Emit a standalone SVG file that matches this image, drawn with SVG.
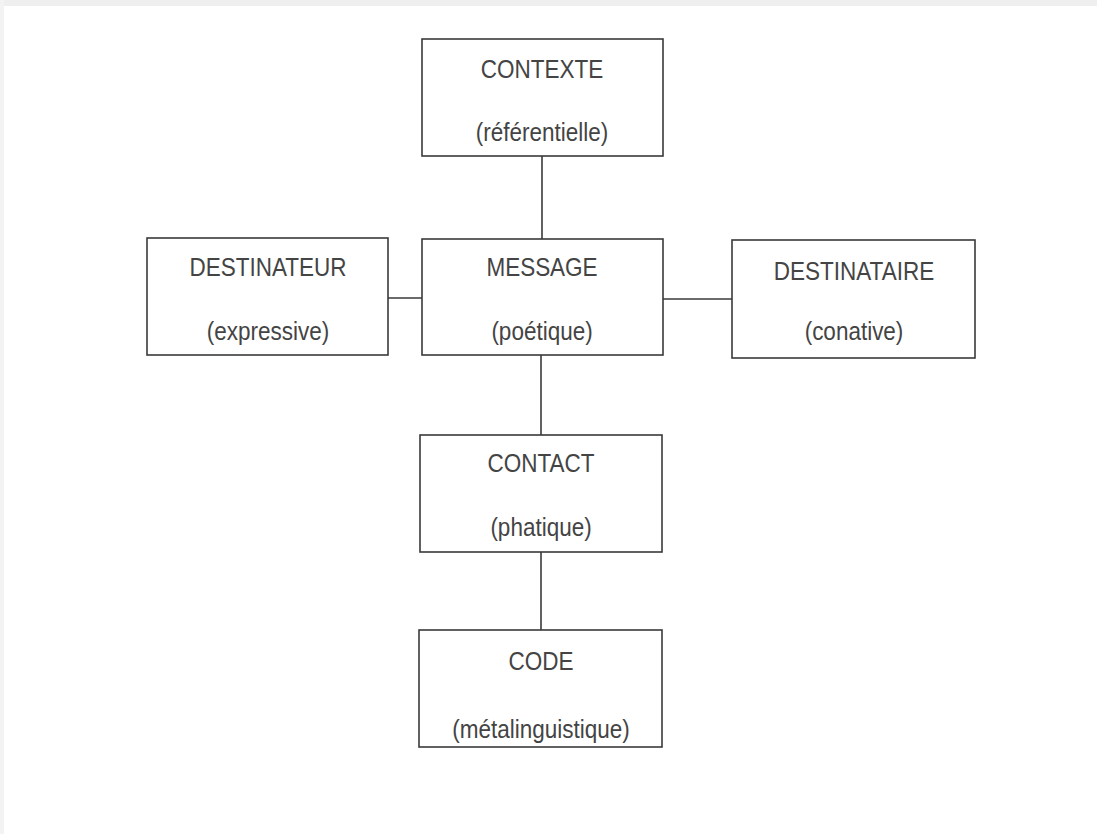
<svg xmlns="http://www.w3.org/2000/svg" width="1097" height="834" viewBox="0 0 1097 834">
<style>
.box{fill:#ffffff;stroke:#3a3a3a;stroke-width:1.6}
.ln{stroke:#3a3a3a;stroke-width:1.6;fill:none}
text{font-family:"Liberation Sans",Arial,sans-serif;font-size:25px;fill:#444444;text-anchor:middle}
</style>
<rect x="0" y="0" width="1097" height="834" fill="#ffffff"/>
<rect x="0" y="0" width="1097" height="6" fill="#efefef"/>
<rect x="0" y="0" width="4" height="834" fill="#f3f3f3"/>
<g id="connectors">
<line class="ln" x1="542" y1="156" x2="542" y2="239"/>
<line class="ln" x1="541" y1="355" x2="541" y2="435"/>
<line class="ln" x1="541" y1="552" x2="541" y2="630"/>
<line class="ln" x1="388" y1="298" x2="422" y2="298"/>
<line class="ln" x1="663" y1="299" x2="732" y2="299"/>
</g>
<g id="contexte">
<rect class="box" x="422" y="39" width="241" height="117"/>
<text transform="translate(542,78) scale(0.9,1)">CONTEXTE</text>
<text transform="translate(542,141) scale(0.9,1)">(référentielle)</text>
</g>
<g id="destinateur">
<rect class="box" x="147" y="238" width="241" height="117"/>
<text transform="translate(268,276) scale(0.9,1)">DESTINATEUR</text>
<text transform="translate(268,340) scale(0.9,1)">(expressive)</text>
</g>
<g id="message">
<rect class="box" x="422" y="239" width="241" height="116"/>
<text transform="translate(542,276) scale(0.9,1)">MESSAGE</text>
<text transform="translate(542,340) scale(0.9,1)">(poétique)</text>
</g>
<g id="destinataire">
<rect class="box" x="732" y="240" width="243" height="118"/>
<text transform="translate(854,280) scale(0.9,1)">DESTINATAIRE</text>
<text transform="translate(854,340) scale(0.9,1)">(conative)</text>
</g>
<g id="contact">
<rect class="box" x="420" y="435" width="242" height="117"/>
<text transform="translate(541,472) scale(0.9,1)">CONTACT</text>
<text transform="translate(541,536) scale(0.9,1)">(phatique)</text>
</g>
<g id="code">
<rect class="box" x="419" y="630" width="243" height="117"/>
<text transform="translate(541,670) scale(0.9,1)">CODE</text>
<text transform="translate(541,738) scale(0.9,1)">(métalinguistique)</text>
</g>
</svg>
